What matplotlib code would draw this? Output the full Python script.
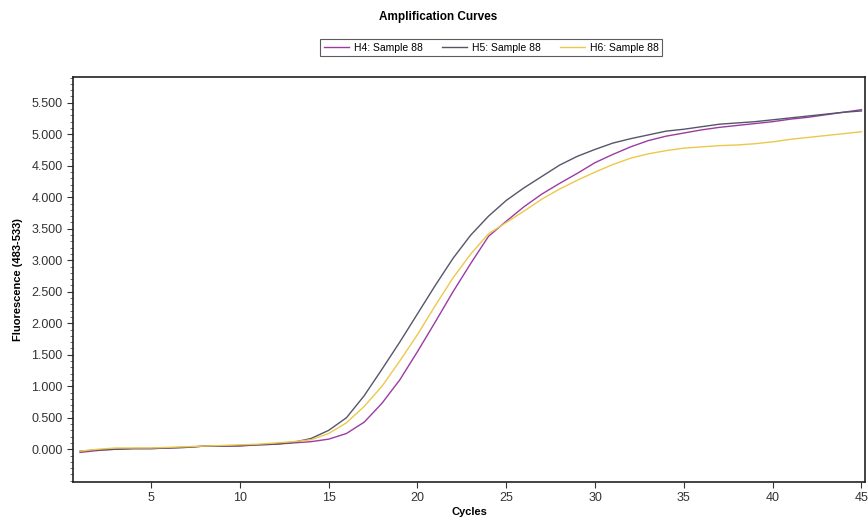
import numpy as np
import matplotlib.pyplot as plt
from matplotlib.ticker import MultipleLocator, FixedLocator, FuncFormatter

plt.rcParams['font.family'] = ['Liberation Sans', 'DejaVu Sans']

cycles = list(range(1, 46))

# fluorescence readings per cycle (483-533 channel)
h4 = [-0.05, -0.02, 0.00, 0.01, 0.01, 0.02, 0.03, 0.05, 0.05, 0.05,
      0.07, 0.08, 0.10, 0.12, 0.16, 0.25, 0.43, 0.73, 1.10, 1.55,
      2.02, 2.50, 2.95, 3.38, 3.62, 3.85, 4.05, 4.22, 4.38, 4.55,
      4.68, 4.80, 4.90, 4.97, 5.02, 5.07, 5.11, 5.14, 5.17, 5.20,
      5.24, 5.27, 5.31, 5.35, 5.39]
h5 = [-0.03, -0.01, 0.00, 0.01, 0.01, 0.02, 0.03, 0.05, 0.05, 0.06,
      0.07, 0.08, 0.11, 0.17, 0.30, 0.50, 0.85, 1.27, 1.70, 2.15,
      2.60, 3.03, 3.40, 3.70, 3.95, 4.15, 4.33, 4.51, 4.65, 4.76,
      4.86, 4.93, 4.99, 5.05, 5.08, 5.12, 5.16, 5.18, 5.20, 5.23,
      5.26, 5.29, 5.32, 5.35, 5.37]
h6 = [-0.03, 0.00, 0.02, 0.02, 0.02, 0.03, 0.04, 0.05, 0.06, 0.07,
      0.08, 0.10, 0.12, 0.15, 0.25, 0.42, 0.68, 1.00, 1.40, 1.82,
      2.28, 2.72, 3.10, 3.42, 3.60, 3.78, 3.97, 4.13, 4.27, 4.40,
      4.52, 4.62, 4.69, 4.74, 4.78, 4.80, 4.82, 4.83, 4.85, 4.88,
      4.92, 4.95, 4.98, 5.01, 5.04]

labels = ["H4: Sample 88", "H5: Sample 88", "H6: Sample 88"]
colors = ["#9b3ba3", "#55566a", "#ecc84a"]
yticks = [0.0, 0.5, 1.0, 1.5, 2.0, 2.5, 3.0, 3.5, 4.0, 4.5, 5.0, 5.5]

fig = plt.figure(figsize=(8.68, 5.2), dpi=100)
ax = fig.add_axes([0.0841, 0.0731, 0.9124, 0.7789])

for vals, lab, col in zip([h4, h5, h6], labels, colors):
    ax.plot(cycles, vals, color=col, linewidth=1.0, label=lab)

ax.set_xlim(0.6, 45.2)
ax.set_ylim(-0.52, 5.91)
ax.xaxis.set_major_locator(MultipleLocator(5))
ax.yaxis.set_major_locator(FixedLocator(yticks))
ax.yaxis.set_minor_locator(MultipleLocator(0.1))
ax.yaxis.set_major_formatter(FuncFormatter(lambda v, p: f"{v:.3f}"))
ax.tick_params(axis='both', which='major', direction='out', length=4,
               width=0.8, labelsize=9, colors='#333333', labelcolor='#333333')
ax.tick_params(axis='y', which='minor', direction='out', length=2, width=0.6,
               colors='#555555')

for side in ['left', 'bottom', 'right', 'top']:
    ax.spines[side].set_color('#222222')
    ax.spines[side].set_linewidth(1.2)

ax.set_xlabel("Cycles", fontsize=8, fontweight='bold', labelpad=2)
ax.set_ylabel("Fluorescence (483-533)", fontsize=8, fontweight='bold',
              labelpad=6)

fig.text(0.505, 0.968, "Amplification Curves", ha='center', va='center',
         fontsize=8.5, fontweight='bold')

leg = fig.legend(loc='center', bbox_to_anchor=(0.566, 0.908), ncol=3,
                 fontsize=7.5, frameon=True, fancybox=False, handlelength=2.4,
                 handletextpad=0.5, columnspacing=1.8, borderpad=0.35)
leg.get_frame().set_edgecolor('#333333')
leg.get_frame().set_linewidth(0.8)

fig.savefig("out.png", dpi=100)
